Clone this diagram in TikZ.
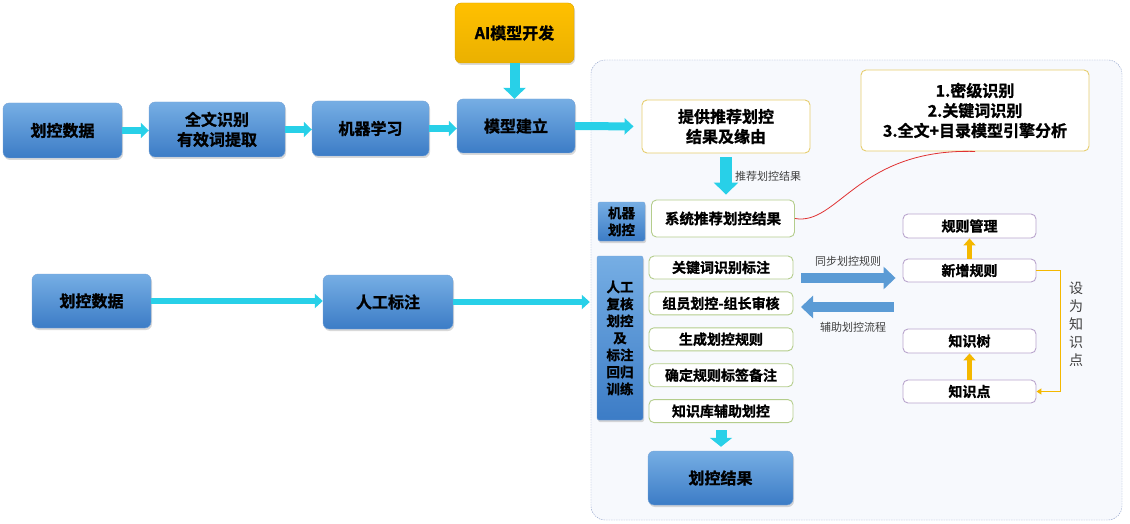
\documentclass[tikz,border=0pt]{standalone}
\usepackage{fontspec}
\setmainfont{Noto Sans CJK SC}[BoldFont={Noto Sans CJK SC Bold},BoldFeatures={FakeBold=1.2}]
\usepackage{xcolor}
\usetikzlibrary{arrows.meta,positioning,calc,shadows}
\definecolor{boxtop}{RGB}{118,174,228}
\definecolor{boxbot}{RGB}{60,124,198}
\definecolor{aiorange}{RGB}{255,192,0}
\definecolor{arrcyan}{RGB}{40,208,232}
\definecolor{arrblue}{RGB}{91,155,213}
\definecolor{arryellow}{RGB}{244,184,0}
\definecolor{panelfill}{RGB}{247,249,253}
\definecolor{paneldraw}{RGB}{140,158,200}
\definecolor{edgeyellow}{RGB}{230,205,110}
\definecolor{edgegreen}{RGB}{180,205,140}
\definecolor{edgepurple}{RGB}{185,165,205}
\definecolor{curvered}{RGB}{224,50,50}

\begin{document}
\begin{tikzpicture}[x=1pt,y=-1pt,
    bluebox/.style={rounded corners=6pt,top color=boxtop,bottom color=boxbot,
                    draw=boxbot!70,drop shadow={opacity=0.3,shadow xshift=1pt,shadow yshift=-2pt},
                    font=\bfseries\fontsize{16}{20}\selectfont,align=center,inner sep=0pt},
    sidebox/.style={bluebox,rounded corners=2pt,font=\bfseries\fontsize{13.5}{17}\selectfont},
    aibox/.style={bluebox,top color=aiorange,bottom color=aiorange!92!black,draw=aiorange!85!black},
    wbox/.style={draw,line width=0.9pt,fill=white,rounded corners=5pt,align=center,inner sep=0pt,
                 font=\bfseries\fontsize{16}{20}\selectfont},
    ybox/.style={wbox,draw=edgeyellow},
    gbox/.style={wbox,draw=edgegreen,font=\bfseries\fontsize{14}{16}\selectfont,
                 minimum width=144,minimum height=23},
    pbox/.style={wbox,draw=edgepurple,font=\bfseries\fontsize{14}{16}\selectfont,
                 minimum width=133,minimum height=24},
    panel/.style={draw=paneldraw,dash pattern=on 1.5pt off 1pt,fill=panelfill,
                  rounded corners=14pt,inner sep=0pt},
    lbl/.style={font=\fontsize{11}{12}\selectfont,text=black!75,inner sep=0pt},
    harr/.style={arrcyan,line width=7pt,-{Triangle[length=8pt,width=15pt]}},
    varr/.style={arrcyan,line width=12pt,-{Triangle[length=12pt,width=24pt]}},
    barr/.style={arrblue,line width=10pt,-{Triangle[length=12pt,width=22pt]}},
    yarr/.style={arryellow,line width=5pt,-{Triangle[length=7pt,width=12pt]}},
    yline/.style={arryellow,line width=1.6pt,-{Triangle[length=5pt,width=6pt]}},
  ]
  \useasboundingbox (0,0) rectangle (1130,524);
  \node[panel,minimum width=531,minimum height=460](pnl) at (856.5,290){};
  % top row
  \node[bluebox,minimum width=119,minimum height=55](sj1) at (62.5,130.5){划控数据};
  \node[bluebox,minimum width=136,minimum height=55](qw) at (217,129.5){全文识别\\有效词提取};
  \node[bluebox,minimum width=117,minimum height=55](jq) at (370.5,128.5){机器学习};
  \node[bluebox,minimum width=118,minimum height=54](mx) at (516,126){模型建立};
  \node[aibox,minimum width=119,minimum height=60](ai) at (514.5,33){AI模型开发};
  \draw[harr](sj1.east)--(sj1.east-|qw.west);
  \draw[harr](qw.east)--(qw.east-|jq.west);
  \draw[harr](jq.east)--(jq.east-|mx.west);
  \draw[varr,line width=10pt,-{Triangle[length=11pt,width=22pt]}](ai.south)--(ai.south|-mx.north);
  % machine part
  \node[ybox,minimum width=168,minimum height=53](tj) at (726,126.5){提供推荐划控\\结果及缘由};
  \node[ybox,minimum width=228,minimum height=81](fx) at (975,110.5){1.密级识别\\2.关键词识别\\3.全文+目录模型引擎分析};
  \draw[harr,line width=8pt,-{Triangle[length=9pt,width=16pt]},shorten >=8pt](mx.east)--(tj.west);
  \node[sidebox,minimum width=47,minimum height=39](jk) at (621.5,221.5){机器\\划控};
  \node[gbox,minimum width=143,minimum height=37,font=\fontsize{14.5}{16}\selectfont\bfseries](xt) at (723,218.5){系统推荐划控结果};
  \draw[varr,shorten <=4pt,shorten >=5pt](tj.south)--(tj.south|-xt.north);
  \node[lbl,anchor=west](tjl) at (735,176){推荐划控结果};
  \draw[curvered,line width=0.8pt](xt.east)..controls (838,226) and (858,148)..(fx.south);
  % manual part
  \node[sidebox,minimum width=46,minimum height=164](hr) at (620,338){人工\\复核\\划控\\及\\标注\\回归\\训练};
  \node[gbox](kw) at (721,267.5){关键词识别标注};
  \node[gbox,below=12pt of kw](zy){组员划控-组长审核};
  \node[gbox,below=12pt of zy](sc){生成划控规则};
  \node[gbox,below=12pt of sc](qd){确定规则标签备注};
  \node[gbox,below=12pt of qd](kb){知识库辅助划控};
  \node[bluebox,minimum width=145,minimum height=54](jg) at (720.5,478){划控结果};
  \draw[varr,line width=11pt,-{Triangle[length=9pt,width=22pt]},shorten <=7pt,shorten >=4pt](kb.south)--(kb.south|-jg.north);
  % rules and knowledge
  \node[pbox](gl) at (969.5,226){规则管理};
  \node[pbox,minimum height=23](xz) at (969.5,270.5){新增规则};
  \node[pbox](zss) at (969.5,341){知识树};
  \node[pbox,minimum height=23](zsd) at (969.5,391.5){知识点};
  \draw[yarr](xz.north)--(gl.south);
  \draw[yarr](zsd.north)--(zss.south);
  \draw[yline](xz.east)--++(24,0)|-(zsd.east);
  \node[lbl,font=\fontsize{14}{18}\selectfont,align=center](swz) at (1076,324){设\\为\\知\\识\\点};
  \coordinate(tb) at (801,278);
  \coordinate(fz) at (801,307);
  \draw[barr,shorten >=7pt](tb)--(tb-|xz.west);
  \draw[barr,shorten <=9pt](fz-|zsd.west)--(fz);
  \node[lbl](tbl) at (848,261){同步划控规则};
  \node[lbl](fzl) at (853,327){辅助划控流程};
  % bottom row
  \node[bluebox,minimum width=119,minimum height=54](sj2) at (91.5,301){划控数据};
  \node[bluebox,minimum width=130,minimum height=54](rg) at (388,302){人工标注};
  \draw[harr,line width=6pt,-{Triangle[length=8pt,width=14pt]}](sj2.east)--(sj2.east-|rg.west);
  \draw[harr,line width=6pt,-{Triangle[length=8pt,width=14pt]},shorten >=1pt](rg.east)--(rg.east-|pnl.west);
\end{tikzpicture}
\end{document}
